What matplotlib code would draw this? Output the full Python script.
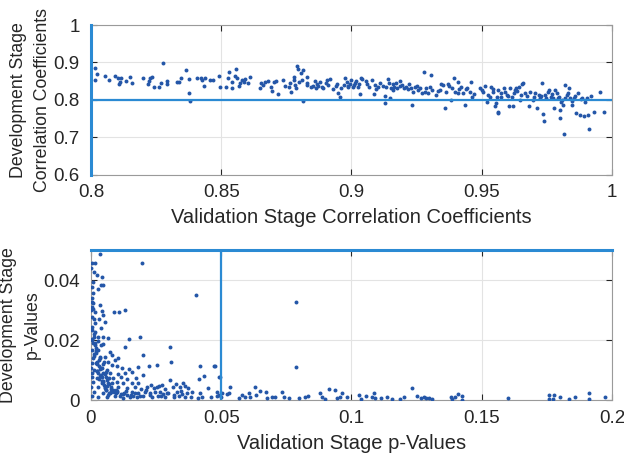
import matplotlib
matplotlib.use("Agg")
import matplotlib.pyplot as plt

# top panel: correlation coefficients (validation, development)
corr_val = [0.8014, 0.8024, 0.8017, 0.8053, 0.8068, 0.8091, 0.8104, 0.8117, 0.8112, 0.8109,
            0.8135, 0.8151, 0.8159, 0.8200, 0.8217, 0.8224, 0.8227, 0.8233, 0.8240, 0.8262,
            0.8267, 0.8276, 0.8291, 0.8292, 0.8332, 0.8337, 0.8346, 0.8364, 0.8376, 0.8378,
            0.8381, 0.8407, 0.8422, 0.8428, 0.8435, 0.8438, 0.8455, 0.8470, 0.8490, 0.8496,
            0.8518, 0.8526, 0.8528, 0.8541, 0.8543, 0.8551, 0.8557, 0.8560, 0.8567, 0.8573,
            0.8580, 0.8586, 0.8592, 0.8601, 0.8612, 0.8647, 0.8653, 0.8660, 0.8669, 0.8678,
            0.8691, 0.8695, 0.8701, 0.8712, 0.8718, 0.8738, 0.8746, 0.8759, 0.8763, 0.8768,
            0.8778, 0.8792, 0.8795, 0.8780, 0.8784, 0.8788, 0.8799, 0.8805, 0.8809, 0.8814,
            0.8812, 0.8831, 0.8831, 0.8844, 0.8853, 0.8860, 0.8865, 0.8869, 0.8878, 0.8886,
            0.8892, 0.8901, 0.8908, 0.8917, 0.8929, 0.8939, 0.8950, 0.8955, 0.8959, 0.8972,
            0.8976, 0.8982, 0.8988, 0.8994, 0.8999, 0.9004, 0.9010, 0.9019, 0.9024, 0.9030,
            0.9035, 0.9034, 0.9042, 0.9055, 0.9068, 0.9078, 0.9086, 0.9091, 0.9100, 0.9109,
            0.9130, 0.9130, 0.9132, 0.9142, 0.9145, 0.9147, 0.9153, 0.9158, 0.9165, 0.9172,
            0.9176, 0.9188, 0.9193, 0.9201, 0.9210, 0.9219, 0.9227, 0.9232, 0.9236, 0.9245,
            0.9255, 0.9262, 0.9278, 0.9281, 0.9287, 0.9293, 0.9304, 0.9309, 0.9326, 0.9332,
            0.9342, 0.9351, 0.9358, 0.9364, 0.9370, 0.9381, 0.9386, 0.9393, 0.9399, 0.9407,
            0.9412, 0.9419, 0.9428, 0.9437, 0.9445, 0.9454, 0.9460, 0.9464, 0.9492, 0.9505,
            0.9512, 0.9522, 0.9531, 0.9535, 0.9544, 0.9550, 0.9557, 0.9563, 0.9554, 0.9564,
            0.9564, 0.9573, 0.9584, 0.9590, 0.9596, 0.9603, 0.9609, 0.9615, 0.9619, 0.9624,
            0.9632, 0.9637, 0.9642, 0.9647, 0.9654, 0.9660, 0.9667, 0.9680, 0.9686, 0.9696,
            0.9701, 0.9712, 0.9718, 0.9724, 0.9731, 0.9735, 0.9737, 0.9744, 0.9753, 0.9760,
            0.9765, 0.9773, 0.9778, 0.9782, 0.9788, 0.9792, 0.9799, 0.9801, 0.9804, 0.9812,
            0.9814, 0.9818, 0.9820, 0.9830, 0.9834, 0.9840, 0.9846, 0.9853, 0.9863, 0.9868,
            0.9876, 0.9885, 0.9891, 0.9904, 0.9906, 0.9910, 0.9930, 0.9955, 0.9970,
            # extra points in the dense band around 0.88-0.98
            0.8830, 0.8870, 0.8905, 0.8945, 0.8985, 0.9015, 0.9060, 0.9095, 0.9120, 0.9160,
            0.9185, 0.9215, 0.9250, 0.9270, 0.9300, 0.9340, 0.9375, 0.9410, 0.9440, 0.9470,
            0.9500, 0.9525, 0.9545, 0.9575, 0.9600, 0.9628, 0.9652, 0.9675, 0.9705, 0.9728,
            0.9748, 0.9770, 0.9795, 0.9808, 0.9826, 0.9845, 0.9858, 0.9880, 0.9895, 0.9920]
corr_dev = [0.884, 0.869, 0.853, 0.864, 0.853, 0.863, 0.858, 0.858, 0.848, 0.841,
            0.851, 0.860, 0.844, 0.857, 0.841, 0.850, 0.859, 0.862, 0.835, 0.833,
            0.845, 0.898, 0.850, 0.841, 0.847, 0.848, 0.858, 0.880, 0.856, 0.817,
            0.798, 0.857, 0.859, 0.853, 0.837, 0.859, 0.853, 0.852, 0.864, 0.835,
            0.835, 0.857, 0.875, 0.848, 0.832, 0.864, 0.882, 0.857, 0.838, 0.844,
            0.853, 0.848, 0.856, 0.846, 0.861, 0.832, 0.844, 0.840, 0.848, 0.850,
            0.835, 0.823, 0.848, 0.851, 0.816, 0.853, 0.837, 0.835, 0.844, 0.822,
            0.853, 0.890, 0.882, 0.862, 0.840, 0.831, 0.848, 0.871, 0.853, 0.879,
            0.797, 0.860, 0.840, 0.835, 0.838, 0.850, 0.832, 0.841, 0.848, 0.835,
            0.831, 0.844, 0.840, 0.855, 0.829, 0.836, 0.817, 0.808, 0.831, 0.840,
            0.859, 0.848, 0.835, 0.841, 0.853, 0.833, 0.840, 0.850, 0.835, 0.841,
            0.859, 0.816, 0.856, 0.850, 0.835, 0.854, 0.816, 0.840, 0.833, 0.844,
            0.811, 0.792, 0.835, 0.856, 0.844, 0.806, 0.831, 0.841, 0.835, 0.844,
            0.831, 0.850, 0.840, 0.831, 0.835, 0.841, 0.831, 0.786, 0.822, 0.835,
            0.826, 0.831, 0.875, 0.822, 0.831, 0.817, 0.866, 0.826, 0.813, 0.824,
            0.841, 0.840, 0.777, 0.822, 0.841, 0.799, 0.831, 0.859, 0.822, 0.848,
            0.829, 0.835, 0.817, 0.786, 0.831, 0.822, 0.847, 0.808, 0.831, 0.822,
            0.838, 0.795, 0.808, 0.835, 0.822, 0.782, 0.808, 0.768, 0.791, 0.826,
            0.764, 0.808, 0.831, 0.822, 0.813, 0.784, 0.831, 0.808, 0.784, 0.817,
            0.831, 0.824, 0.835, 0.799, 0.841, 0.844, 0.817, 0.782, 0.822, 0.799,
            0.808, 0.779, 0.813, 0.804, 0.844, 0.761, 0.743, 0.813, 0.822, 0.826,
            0.808, 0.804, 0.777, 0.826, 0.817, 0.804, 0.752, 0.773, 0.795, 0.786,
            0.708, 0.840, 0.804, 0.817, 0.831, 0.804, 0.786, 0.804, 0.764, 0.817,
            0.759, 0.804, 0.757, 0.804, 0.759, 0.722, 0.767, 0.820, 0.768,
            0.846, 0.836, 0.852, 0.843, 0.838, 0.846, 0.843, 0.828, 0.838, 0.826,
            0.836, 0.828, 0.838, 0.819, 0.834, 0.827, 0.837, 0.818, 0.829, 0.815,
            0.827, 0.814, 0.829, 0.818, 0.811, 0.826, 0.813, 0.809, 0.818, 0.811,
            0.806, 0.815, 0.808, 0.799, 0.812, 0.796, 0.809, 0.801, 0.793, 0.811]

# bottom panel: p-values (validation, development)
p_val = [0.0035, 0.0003, 0.0015, 0.0197, 0.0013, 0.0022, 0.0041, 0.0005, 0.0038, 0.0047,
         0.0026, 0.0009, 0.0403, 0.0003, 0.0009, 0.0005, 0.0035, 0.0000, 0.0015, 0.0041,
         0.0090, 0.0109, 0.0131, 0.0047, 0.0005, 0.0031, 0.0054, 0.0003, 0.0038, 0.0015,
         0.0013, 0.0028, 0.0047, 0.0064, 0.0146, 0.0188, 0.0005, 0.0015, 0.0038, 0.0047,
         0.0304, 0.0131, 0.0003, 0.0028, 0.0073, 0.0079, 0.0201, 0.0054, 0.0009, 0.0035,
         0.0105, 0.0051, 0.0067, 0.0092, 0.0308, 0.0005, 0.0022, 0.0082, 0.0099, 0.0179,
         0.0223, 0.0255, 0.0419, 0.0474, 0.0000, 0.0013, 0.0041, 0.0060, 0.0118, 0.0146,
         0.0005, 0.0028, 0.0047, 0.0073, 0.0105, 0.0131, 0.0156, 0.0201, 0.0432, 0.0496,
         0.0003, 0.0022, 0.0056, 0.0086, 0.0115, 0.0137, 0.0172, 0.0304, 0.0415, 0.0009,
         0.0041, 0.0067, 0.0099, 0.0124, 0.0156, 0.0182, 0.0231, 0.0262, 0.0272, 0.0326,
         0.0355, 0.0362, 0.0000, 0.0028, 0.0054, 0.0077, 0.0105, 0.0137, 0.0169, 0.0192,
         0.0214, 0.0240, 0.0253, 0.0285, 0.0313, 0.0342, 0.0374, 0.0449, 0.0013, 0.0047,
         0.0073, 0.0099, 0.0128, 0.0156, 0.0182, 0.0208, 0.0227, 0.0265, 0.0278, 0.0297,
         0.0329, 0.0349, 0.0368, 0.0387, 0.0419, 0.0005, 0.0028, 0.0060, 0.0092, 0.0121,
         0.0150, 0.0176, 0.0201, 0.0233, 0.0256, 0.0285, 0.0317, 0.0338, 0.0362, 0.0385,
         0.0410, 0.0426, 0.0462, 0.0483, 0.0500,
         # dense corner, low validation p-values
         0.0002, 0.0006, 0.0010, 0.0018, 0.0024, 0.0033, 0.0044, 0.0050, 0.0058, 0.0065,
         0.0012, 0.0020, 0.0030, 0.0039, 0.0052, 0.0063, 0.0071, 0.0084, 0.0095, 0.0110,
         0.0004, 0.0016, 0.0027, 0.0036, 0.0048, 0.0057, 0.0069, 0.0080, 0.0101, 0.0123,
         0.0007, 0.0011, 0.0019, 0.0025, 0.0034, 0.0043, 0.0062, 0.0075, 0.0088, 0.0140,
         0.0001, 0.0008, 0.0014, 0.0021, 0.0029, 0.0037, 0.0046, 0.0055, 0.0068, 0.0160,
         0.0003, 0.0012, 0.0022, 0.0031, 0.0045, 0.0059, 0.0078, 0.0096, 0.0115, 0.0135,
         0.0152, 0.0170, 0.0187, 0.0210, 0.0228, 0.0246, 0.0268, 0.0290, 0.0320, 0.0345,
         # beyond 0.045
         0.0477, 0.0492, 0.0483, 0.0490, 0.0503, 0.0522, 0.0535, 0.0528, 0.0787, 0.0787,
         0.0567, 0.0579, 0.0592, 0.0605, 0.0612, 0.0628, 0.0633, 0.0650, 0.0672, 0.0676,
         0.0695, 0.0708, 0.0733, 0.0740, 0.0759, 0.0797, 0.0823, 0.0833, 0.0881, 0.0885,
         0.0900, 0.0913, 0.0936, 0.0945, 0.0954, 0.0962, 0.0983, 0.1028, 0.1035, 0.1056,
         0.1079, 0.1085, 0.1092, 0.1112, 0.1137, 0.1156, 0.1188, 0.1201, 0.1231, 0.1252,
         0.1265, 0.1278, 0.1287, 0.1297, 0.1310, 0.1381, 0.1385, 0.1397, 0.1410, 0.1423,
         0.1426, 0.1599, 0.1760, 0.1760, 0.1772, 0.1778, 0.1800, 0.1833, 0.1856, 0.1910,
         0.1910, 0.1974]
p_dev = [0.0487, 0.0458, 0.0458, 0.0456, 0.0428, 0.0417, 0.0409, 0.0378, 0.0383, 0.0383,
         0.0369, 0.0356, 0.0350, 0.0328, 0.0322, 0.0311, 0.0317, 0.0300, 0.0294, 0.0298,
         0.0294, 0.0294, 0.0300, 0.0283, 0.0278, 0.0269, 0.0261, 0.0244, 0.0239, 0.0228,
         0.0211, 0.0211, 0.0209, 0.0208, 0.0203, 0.0211, 0.0200, 0.0189, 0.0183, 0.0187,
         0.0178, 0.0176, 0.0167, 0.0167, 0.0161, 0.0150, 0.0150, 0.0144, 0.0139, 0.0139,
         0.0139, 0.0128, 0.0128, 0.0133, 0.0126, 0.0122, 0.0120, 0.0117, 0.0113, 0.0111,
         0.0113, 0.0116, 0.0114, 0.0114, 0.0106, 0.0100, 0.0106, 0.0100, 0.0106, 0.0102,
         0.0091, 0.0089, 0.0089, 0.0091, 0.0087, 0.0091, 0.0094, 0.0083, 0.0080, 0.0078,
         0.0078, 0.0072, 0.0076, 0.0072, 0.0076, 0.0069, 0.0072, 0.0067, 0.0069, 0.0061,
         0.0058, 0.0056, 0.0061, 0.0056, 0.0058, 0.0056, 0.0050, 0.0047, 0.0049, 0.0053,
         0.0058, 0.0047, 0.0044, 0.0044, 0.0039, 0.0044, 0.0042, 0.0039, 0.0044, 0.0036,
         0.0042, 0.0039, 0.0044, 0.0036, 0.0042, 0.0044, 0.0039, 0.0039, 0.0028, 0.0024,
         0.0022, 0.0028, 0.0024, 0.0028, 0.0022, 0.0028, 0.0022, 0.0028, 0.0020, 0.0024,
         0.0028, 0.0020, 0.0024, 0.0028, 0.0022, 0.0013, 0.0009, 0.0011, 0.0013, 0.0006,
         0.0011, 0.0009, 0.0013, 0.0009, 0.0013, 0.0009, 0.0011, 0.0013, 0.0009, 0.0011,
         0.0006, 0.0011, 0.0011, 0.0013, 0.0011,
         0.0233, 0.0190, 0.0152, 0.0124, 0.0098, 0.0081, 0.0065, 0.0049, 0.0033, 0.0018,
         0.0270, 0.0172, 0.0135, 0.0108, 0.0086, 0.0068, 0.0052, 0.0035, 0.0024, 0.0015,
         0.0340, 0.0256, 0.0196, 0.0143, 0.0119, 0.0093, 0.0074, 0.0057, 0.0031, 0.0020,
         0.0395, 0.0220, 0.0164, 0.0128, 0.0103, 0.0078, 0.0048, 0.0038, 0.0027, 0.0017,
         0.0440, 0.0305, 0.0182, 0.0157, 0.0112, 0.0085, 0.0063, 0.0045, 0.0025, 0.0012,
         0.0204, 0.0148, 0.0097, 0.0070, 0.0060, 0.0034, 0.0026, 0.0032, 0.0019, 0.0030,
         0.0016, 0.0025, 0.0014, 0.0033, 0.0018, 0.0027, 0.0015, 0.0023, 0.0016, 0.0030,
         0.0113, 0.0078, 0.0028, 0.0017, 0.0022, 0.0020, 0.0042, 0.0024, 0.0328, 0.0109,
         0.0006, 0.0017, 0.0011, 0.0022, 0.0011, 0.0042, 0.0017, 0.0031, 0.0028, 0.0006,
         0.0011, 0.0011, 0.0028, 0.0011, 0.0006, 0.0006, 0.0009, 0.0013, 0.0022, 0.0011,
         0.0002, 0.0036, 0.0033, 0.0006, 0.0011, 0.0022, 0.0009, 0.0017, 0.0002, 0.0013,
         0.0011, 0.0022, 0.0006, 0.0006, 0.0009, 0.0002, 0.0002, 0.0011, 0.0039, 0.0013,
         0.0006, 0.0009, 0.0006, 0.0006, 0.0002, 0.0009, 0.0002, 0.0009, 0.0019, 0.0013,
         0.0000, 0.0006, 0.0017, 0.0002, 0.0002, 0.0017, 0.0011, 0.0002, 0.0009, 0.0022,
         0.0002, 0.0009]

corr_cut = 0.8
p_cut = 0.05

dot_color = "#2456a8"
line_color = "#2b8ad3"
text_color = "#262626"

plt.rcParams["font.family"] = ["Liberation Sans", "DejaVu Sans"]

fig = plt.figure(figsize=(6.24, 4.54), dpi=100)
ax1 = fig.add_axes([0.1458, 0.6156, 0.835, 0.3293])
ax2 = fig.add_axes([0.1458, 0.1189, 0.835, 0.3304])


def style(ax):
    for s in ax.spines.values():
        s.set_color("#9a9a9a")
        s.set_linewidth(0.8)
    ax.tick_params(direction="in", length=4, width=0.8, color=text_color,
                   labelcolor=text_color, top=True, right=True, labelsize=13.5)
    ax.tick_params(axis="x", pad=7)
    ax.tick_params(axis="y", pad=8)
    ax.grid(True, color="#e3e3e3", linewidth=0.8)
    ax.set_axisbelow(True)


# top panel
ax1.scatter(corr_val, corr_dev, s=8, color=dot_color, linewidths=0, zorder=3)
ax1.plot([0.8, 1.0], [corr_cut, corr_cut], color=line_color, lw=1.6, zorder=4)
ax1.plot([corr_cut, corr_cut], [0.6, 1.0], color=line_color, lw=2.2, zorder=4, clip_on=False)
ax1.set_xlim(0.8, 1.0)
ax1.set_ylim(0.6, 1.0)
ax1.set_xticks([0.8, 0.85, 0.9, 0.95, 1.0])
ax1.set_xticklabels(["0.8", "0.85", "0.9", "0.95", "1"])
ax1.set_yticks([0.6, 0.7, 0.8, 0.9, 1.0])
ax1.set_yticklabels(["0.6", "0.7", "0.8", "0.9", "1"])
ax1.set_xlabel("Validation Stage Correlation Coefficients", fontsize=14.5, color=text_color,
               labelpad=5)
ax1.set_ylabel("Development Stage\nCorrelation Coefficients", fontsize=12.8, color=text_color,
               linespacing=1.5, labelpad=2)
style(ax1)

# bottom panel
ax2.scatter(p_val, p_dev, s=8, color=dot_color, linewidths=0, zorder=3)
ax2.plot([0, 0.2], [p_cut, p_cut], color=line_color, lw=2.2, zorder=4, clip_on=False)
ax2.plot([p_cut, p_cut], [0, 0.05], color=line_color, lw=1.6, zorder=4)
ax2.set_xlim(0, 0.2)
ax2.set_ylim(0, 0.05)
ax2.set_xticks([0, 0.05, 0.1, 0.15, 0.2])
ax2.set_xticklabels(["0", "0.05", "0.1", "0.15", "0.2"])
ax2.set_yticks([0, 0.02, 0.04])
ax2.set_yticklabels(["0", "0.02", "0.04"])
ax2.set_xlabel("Validation Stage p-Values", fontsize=14.5, color=text_color, labelpad=5)
ax2.set_ylabel("Development Stage\np-Values", fontsize=12.8, color=text_color,
               linespacing=1.5, labelpad=2)
style(ax2)

fig.savefig("out.png", dpi=100)
